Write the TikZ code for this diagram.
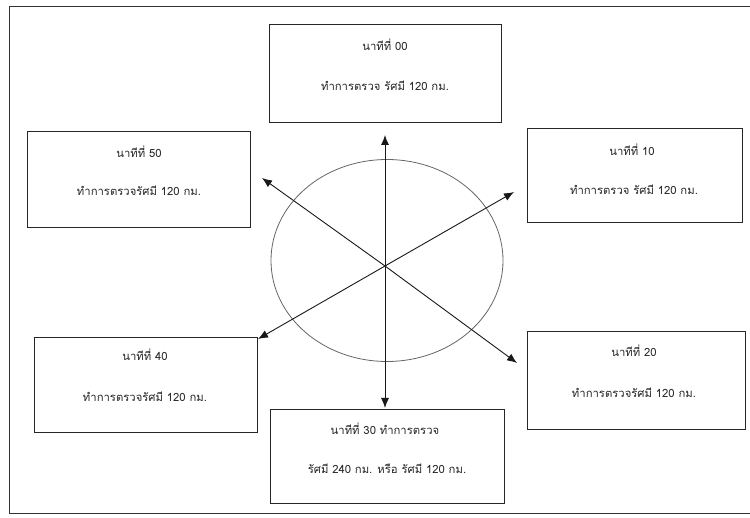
\documentclass[tikz,border=0pt]{standalone}
\usepackage{fontspec}
\newfontfamily\thaifont[Script=Thai]{Loma}
\usetikzlibrary{arrows.meta}
\tikzset{
  box/.style={draw=black!85, line width=0.9pt, rectangle, inner sep=0pt},
  txt/.style={font=\thaifont\fontsize{11.3}{13}\selectfont, text=black!85, inner sep=0pt, anchor=center},
  arr/.style={draw=black!90, line width=0.9pt, -{Latex[length=10pt,width=8pt]}},
  ring/.style={draw=black!60, line width=0.8pt}
}
\begin{document}
\begin{tikzpicture}[x=1pt,y=-1pt]
\useasboundingbox (0,0) rectangle (750,518);
\clip (0,0) rectangle (750,518);
\fill[white] (0,0) rectangle (750,518);
% outer frame (right side outside the page)
\draw[black!80, line width=1pt] (760,7) -- (9,7) -- (9,513) -- (760,513);

% boxes
\node[box, minimum width=232pt, minimum height=98pt] (b00) at (385,73.5) {};
\node[box, minimum width=223pt, minimum height=96pt] (b50) at (138.5,179) {};
\node[box, minimum width=215pt, minimum height=94pt] (b10) at (634.5,175) {};
\node[box, minimum width=223pt, minimum height=95pt] (b40) at (145.5,384.5) {};
\node[box, minimum width=218pt, minimum height=98pt] (b20) at (636,380) {};
\node[box, minimum width=234pt, minimum height=94pt] (b30) at (387,456) {};

% texts
\node[txt] (t00a) at (385,45) {นาทีที่ 00};
\node[txt] (t00b) at (385,86) {ทำการตรวจ รัศมี 120 กม.};
\node[txt] (t50a) at (139,152) {นาทีที่ 50};
\node[txt] (t50b) at (139,191) {ทำการตรวจรัศมี 120 กม.};
\node[txt] (t10a) at (632,150) {นาทีที่ 10};
\node[txt] (t10b) at (634,190) {ทำการตรวจ รัศมี 120 กม.};
\node[txt] (t40a) at (145,355) {นาทีที่ 40};
\node[txt] (t40b) at (145,397) {ทำการตรวจรัศมี 120 กม.};
\node[txt] (t20a) at (634,351) {นาทีที่ 20};
\node[txt] (t20b) at (634,393) {ทำการตรวจรัศมี 120 กม.};
\node[txt] (t30a) at (385,429) {นาทีที่ 30 ทำการตรวจ};
\node[txt] (t30b) at (387,469) {รัศมี 240 กม. หรือ รัศมี 120 กม.};

% circle
\draw[ring] (387,260.5) ellipse [x radius=116, y radius=101];

% arrows
\coordinate (c) at (385,266);
\coordinate (pN) at (385,135);
\coordinate (pS) at (385,408);
\coordinate (pNW) at (262,178);
\coordinate (pSE) at (517,363);
\coordinate (pNE) at (514,192);
\coordinate (pSW) at (258,339);
\draw[arr] (c) -- (pN);
\draw[arr] (c) -- (pS);
\draw[arr] (c) -- (pNW);
\draw[arr] (c) -- (pSE);
\draw[arr] (c) -- (pNE);
\draw[arr] (c) -- (pSW);
\end{tikzpicture}
\end{document}
